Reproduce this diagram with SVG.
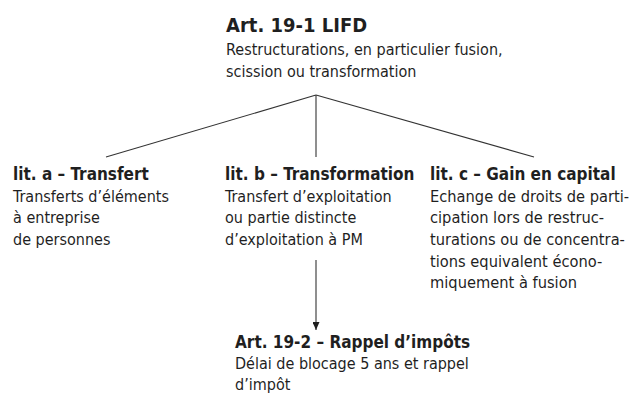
<svg xmlns="http://www.w3.org/2000/svg" width="635" height="402" viewBox="0 0 635 402">
<defs>
<style>
text{font-family:"DejaVu Sans Condensed","Liberation Sans Narrow","Liberation Sans",sans-serif;fill:#1f1f1f;}
.h{font-size:17px;font-weight:bold;}
.t{font-size:16px;}
.tc{font-size:16.3px;}
.big{font-size:20px;font-weight:bold;}
.c{stroke:#333;stroke-width:1.1;fill:none;}
</style>
<marker id="ar" markerWidth="9" markerHeight="7" refX="8" refY="3.5" orient="auto" markerUnits="userSpaceOnUse">
<path d="M0,0 L8,3.5 L0,7 Z" fill="#1f1f1f"/>
</marker>
</defs>
<g id="connectors">
<line class="c" x1="316" y1="95" x2="106" y2="157"/>
<line class="c" x1="316" y1="95" x2="316" y2="157"/>
<line class="c" x1="316" y1="95" x2="534" y2="157"/>
<line class="c" x1="316" y1="260" x2="316" y2="330" marker-end="url(#ar)"/>
</g>
<g id="root">
<text class="big" x="226" y="32">Art. 19-1 LIFD</text>
<text class="t" x="226" y="55">Restructurations, en particulier fusion,</text>
<text class="t" x="226" y="77">scission ou transformation</text>
</g>
<g id="lit-a">
<text class="h" x="13" y="180">lit. a – Transfert</text>
<text class="t" x="13" y="202">Transferts d’éléments</text>
<text class="t" x="13" y="223">à entreprise</text>
<text class="t" x="13" y="245">de personnes</text>
</g>
<g id="lit-b">
<text class="h" x="225" y="180">lit. b – Transformation</text>
<text class="t" x="225" y="202">Transfert d’exploitation</text>
<text class="t" x="225" y="223">ou partie distincte</text>
<text class="t" x="225" y="245">d’exploitation à PM</text>
</g>
<g id="lit-c">
<text class="h" x="430" y="180">lit. c – Gain en capital</text>
<text class="tc" x="430" y="202">Echange de droits de parti-</text>
<text class="tc" x="430" y="223">cipation lors de restruc-</text>
<text class="tc" x="430" y="245">turations ou de concentra-</text>
<text class="tc" x="430" y="267">tions equivalent écono-</text>
<text class="tc" x="430" y="288">miquement à fusion</text>
</g>
<g id="art-19-2">
<text class="h" x="235" y="348">Art. 19-2 – Rappel d’impôts</text>
<text class="t" x="235" y="369">Délai de blocage 5 ans et rappel</text>
<text class="t" x="235" y="390">d’impôt</text>
</g>
</svg>
